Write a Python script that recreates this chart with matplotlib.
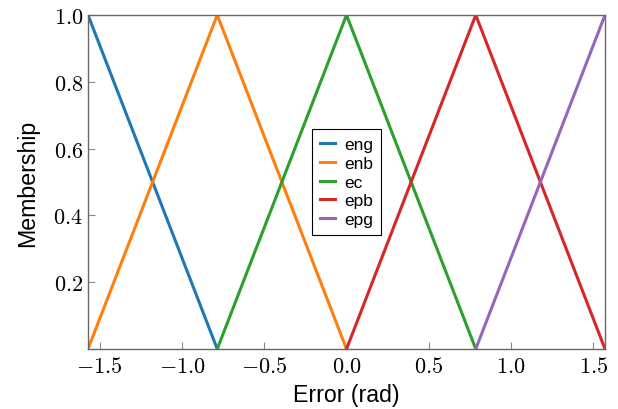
import numpy as np
import matplotlib
matplotlib.use("Agg")
import matplotlib.pyplot as plt
from matplotlib.ticker import FuncFormatter

labels = ["eng", "enb", "ec", "epb", "epg"]
colors = ["#1f77b4", "#ff7f0e", "#2ca02c", "#d62728", "#9467bd"]
x_eng = [-1.5708, -0.7854]
y_eng = [1.0, 0.0]
x_enb = [-1.5708, -0.7854, 0.0]
y_enb = [0.0, 1.0, 0.0]
x_ec = [-0.7854, 0.0, 0.7854]
y_ec = [0.0, 1.0, 0.0]
x_epb = [0.0, 0.7854, 1.5708]
y_epb = [0.0, 1.0, 0.0]
x_epg = [0.7854, 1.5708]
y_epg = [0.0, 1.0]
xticks = [-1.5, -1.0, -0.5, 0.0, 0.5, 1.0, 1.5]
yticks = [0.2, 0.4, 0.6, 0.8, 1.0]

plt.rcParams['mathtext.fontset'] = 'cm'
fig = plt.figure(figsize=(6.18, 4.10), dpi=100)
ax = fig.add_axes([88/618, 1 - 350/410, (605-88)/618, (350-16)/410])

series = [(x_eng, y_eng), (x_enb, y_enb), (x_ec, y_ec), (x_epb, y_epb), (x_epg, y_epg)]
for (xs, ys), lab, c in zip(series, labels, colors):
    ax.plot(xs, ys, color=c, lw=2.2, label=lab, solid_joinstyle='miter')

ax.set_xlim(-1.5708, 1.5708)
ax.set_ylim(0, 1.0)
ax.set_xticks(xticks)
ax.set_yticks(yticks)
ax.xaxis.set_major_formatter(FuncFormatter(lambda v, p: r"$%.1f$" % v if v >= 0 else r"$-%.1f$" % abs(v)))
ax.yaxis.set_major_formatter(FuncFormatter(lambda v, p: r"$%.1f$" % v))
ax.tick_params(direction='in', length=5, width=0.8, color='#888888', labelsize=16)
ax.tick_params(axis='x', pad=5)
for s in ax.spines.values():
    s.set_color('#666666')
    s.set_linewidth(1.0)

ax.set_xlabel("Error (rad)", fontsize=16.7, family="Liberation Sans", labelpad=5)
ax.set_ylabel("Membership", fontsize=16.7, family="Liberation Sans", labelpad=10)

leg = ax.legend(loc='center', bbox_to_anchor=(0.5, 0.5),
                prop={'family': 'Liberation Sans', 'size': 12.5},
                handlelength=0.9, handletextpad=0.5, labelspacing=0.2,
                fancybox=False, edgecolor='black', framealpha=1,
                borderpad=0.45, borderaxespad=0)
leg.get_frame().set_linewidth(0.8)

fig.savefig("out.png", dpi=100)
